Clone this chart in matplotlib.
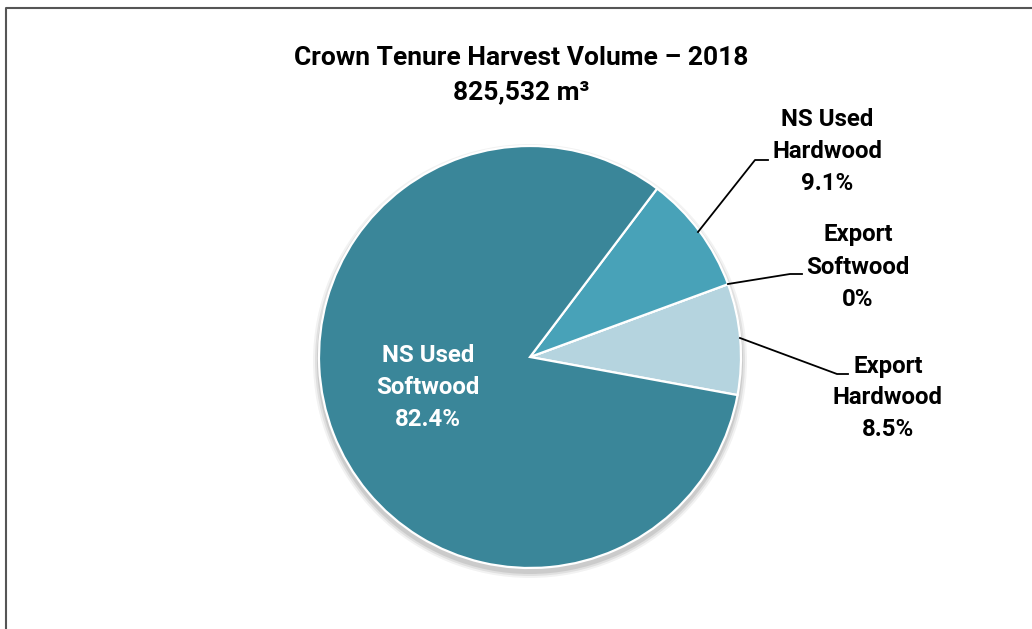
import matplotlib.pyplot as plt
from matplotlib.lines import Line2D
from matplotlib.patches import Circle

plt.rcParams['font.family'] = ['Roboto', 'DejaVu Sans']

# Datos del gráfico
labels = ['Export\nHardwood', 'Export\nSoftwood', 'NS Used\nHardwood', 'NS Used\nSoftwood']
shares = [8.5, 0.0, 9.1, 82.4]
colors = ['#B5D4DF', '#46A0B8', '#48A2B8', '#3A8699']
title = 'Crown Tenure Harvest Volume \u2013 2018'
total_text = '825,532 m\u00b3'

W, H = 1032, 629
cx, cy, r = 530, H - 357, 211

fig = plt.figure(figsize=(W / 100, H / 100), dpi=100)
ax = fig.add_axes([0, 0, 1, 1])

# sombra suave debajo del pie
for k, a in [(6, 0.05), (4, 0.07), (2, 0.09)]:
    ax.add_patch(Circle((cx, cy - 4), r + k, color='black', alpha=a, lw=0, zorder=0))

wedges, _ = ax.pie(shares, colors=colors, startangle=-10.4, counterclock=True,
                   center=(cx, cy), radius=r,
                   wedgeprops=dict(edgecolor='white', linewidth=1.6))
for w in wedges:
    w.set_zorder(2)

ax.set_xlim(0, W)
ax.set_ylim(0, H)
ax.set_aspect('auto')
ax.axis('off')

fs = 17.3
txt = dict(ha='center', va='center', fontsize=fs, fontweight='bold', linespacing=1.5)

# etiqueta interior
ax.text(428, H - 388, f'{labels[3]}\n{shares[3]:.1f}%', color='white', **txt)

# etiquetas externas con líneas guía: (punto en pie, codo, fin, centro texto)
guides = {
    2: ((698, 232), (755, 160), (768, 160), (827, 152)),
    1: ((728, 284), (790, 274), (802, 274), (858, 267)),
    0: ((740, 338), (837, 374), (848, 374), (888, 398)),
}
for i, (p0, p1, p2, pt) in guides.items():
    xs = [p0[0], p1[0], p2[0]]
    ys = [H - p0[1], H - p1[1], H - p2[1]]
    ax.plot(xs, ys, color='black', lw=1.3, zorder=3)
    val = f'{shares[i]:.1f}%' if shares[i] > 0 else '0%'
    ax.text(pt[0], H - pt[1], f'{labels[i]}\n{val}', color='black', **txt)

# título
ax.text(521, H - 58, title, ha='center', va='center', fontsize=19, fontweight='bold')
ax.text(521, H - 92, total_text, ha='center', va='center', fontsize=19, fontweight='bold')

# borde del área del gráfico
fig.add_artist(Line2D([5.5 / W, 5.5 / W, 1], [0, 1 - 8 / H, 1 - 8 / H],
                      transform=fig.transFigure, color='#555555', lw=1.5))

fig.savefig('out.png', dpi=100)
